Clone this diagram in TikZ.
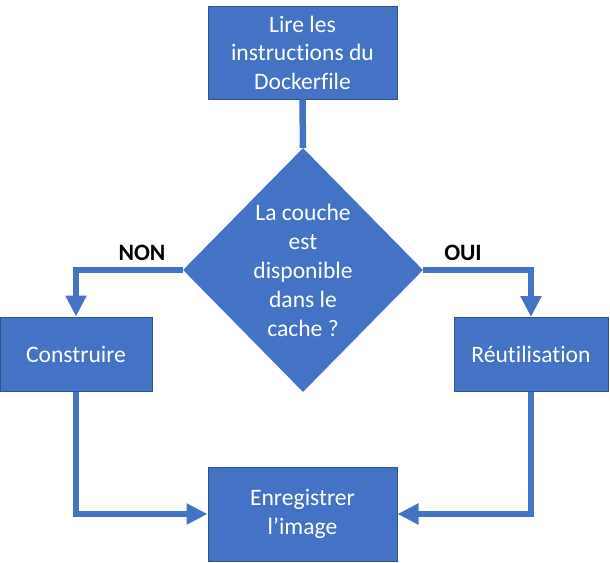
\documentclass[tikz,border=0pt]{standalone}
\usepackage{fontspec}
\setmainfont{Carlito}[Ligatures=NoCommon]
\usetikzlibrary{shapes.geometric,arrows.meta}
\definecolor{boxfill}{HTML}{4472C4}
\definecolor{boxline}{HTML}{2F528F}
\tikzset{
  stepbox/.style={rectangle, fill=boxfill, draw=boxline, line width=1pt, inner sep=0pt,
    text=white, align=center, font=\fontsize{23.6}{28.6}\selectfont},
  decbox/.style={diamond, fill=boxfill, inner sep=0pt},
  dectext/.style={text=white, align=center, inner sep=0pt, font=\fontsize{23.6}{29}\selectfont},
  conn/.style={draw=boxfill, line width=6.5pt},
  arr/.style={conn, -{Triangle[length=21pt,width=20pt]}},
  lbl/.style={text=black, inner sep=0pt, font=\bfseries\fontsize{23.5}{28}\selectfont}
}
\begin{document}
\begin{tikzpicture}[x=1pt,y=-1pt]
\useasboundingbox (0,0) rectangle (610,562);
\node[stepbox, minimum width=189pt, minimum height=93pt] (top) at (302.5,52.5) {Lire les\\instructions du\\Dockerfile};
\node[decbox, minimum width=240pt, minimum height=244pt] (dec) at (303,270) {};
\node[dectext] (dtext) at (303,270) {La couche\\est\\disponible\\dans le\\cache ?};
\node[stepbox, minimum width=152pt, minimum height=74pt] (left) at (76,354) {Construire};
\node[stepbox, minimum width=154pt, minimum height=74pt] (right) at (531,354.5) {Réutilisation};
\node[stepbox, minimum width=189pt, minimum height=94pt] (bot) at (302.5,514) {Enregistrer\\l’image};
\draw[conn] (top.south) -- (dec.north);
\draw[arr] (dec.west) -| (left.north);
\draw[arr] (dec.east) -| (right.north);
\draw[arr] (left.south) |- (bot.west);
\draw[arr] (right.south) |- (bot.east);
\node[lbl] (lblnon) at (142,253) {NON};
\node[lbl] (lbloui) at (463,253) {OUI};
\end{tikzpicture}
\end{document}
